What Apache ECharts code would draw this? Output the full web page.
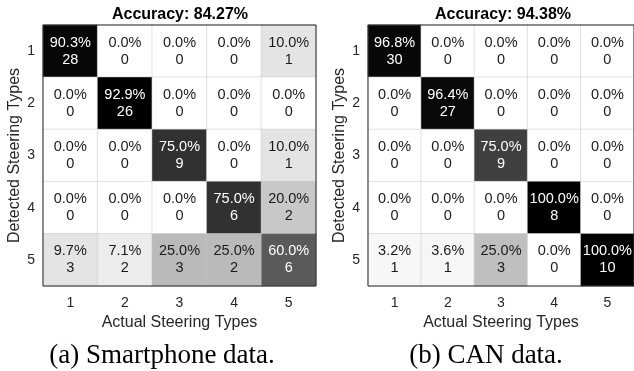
<!DOCTYPE html>
<html>
<head>
<meta charset="utf-8">
<script src="https://cdn.jsdelivr.net/npm/echarts@6/dist/echarts.min.js"></script>
<style>
html,body{margin:0;padding:0;background:#fff;}
#chart{width:634px;height:371px;}
</style>
</head>
<body>
<div id="chart"></div>
<script>
// Categories / tick labels
var categories = ['1', '2', '3', '4', '5'];

// Smartphone data: rows = detected type (1..5), cols = actual type (1..5)
var smartPct = [
  [90.3, 0.0, 0.0, 0.0, 10.0],
  [0.0, 92.9, 0.0, 0.0, 0.0],
  [0.0, 0.0, 75.0, 0.0, 10.0],
  [0.0, 0.0, 0.0, 75.0, 20.0],
  [9.7, 7.1, 25.0, 25.0, 60.0]
];
var smartCnt = [
  [28, 0, 0, 0, 1],
  [0, 26, 0, 0, 0],
  [0, 0, 9, 0, 1],
  [0, 0, 0, 6, 2],
  [3, 2, 3, 2, 6]
];

// CAN data
var canPct = [
  [96.8, 0.0, 0.0, 0.0, 0.0],
  [0.0, 96.4, 0.0, 0.0, 0.0],
  [0.0, 0.0, 75.0, 0.0, 0.0],
  [0.0, 0.0, 0.0, 100.0, 0.0],
  [3.2, 3.6, 25.0, 0.0, 100.0]
];
var canCnt = [
  [30, 0, 0, 0, 0],
  [0, 27, 0, 0, 0],
  [0, 0, 9, 0, 0],
  [0, 0, 0, 8, 0],
  [1, 1, 3, 0, 10]
];

var titles = ['Accuracy: 84.27%', 'Accuracy: 94.38%'];
var captions = ['(a) Smartphone data.', '(b) CAN data.'];
var xName = 'Actual Steering Types';
var yName = 'Detected Steering Types';

function buildData(pct, cnt) {
  var out = [];
  for (var r = 0; r < pct.length; r++) {
    for (var c = 0; c < pct[r].length; c++) {
      out.push({
        value: [c, r, pct[r][c], cnt[r][c]],
        label: { color: pct[r][c] > 50 ? '#ffffff' : '#1a1a1a' }
      });
    }
  }
  return out;
}
function maxOf(m) {
  var mx = 0;
  m.forEach(function (row) { row.forEach(function (v) { if (v > mx) mx = v; }); });
  return mx;
}

var FONT = 'Liberation Sans';
var grids = [
  { left: 43, top: 25, width: 273, height: 261 },
  { left: 368, top: 25, width: 273, height: 261 }
];

function xAx(i) {
  return {
    type: 'category', gridIndex: i, data: categories,
    position: 'bottom',
    axisLine: { show: false }, axisTick: { show: false }, splitLine: { show: false },
    axisLabel: { color: '#262626', fontFamily: FONT, fontSize: 14, margin: 10 },
    name: xName, nameLocation: 'middle', nameGap: 29,
    nameTextStyle: { color: '#262626', fontFamily: FONT, fontSize: 16 }
  };
}
function yAx(i) {
  return {
    type: 'category', gridIndex: i, data: categories, inverse: true,
    axisLine: { show: false }, axisTick: { show: false }, splitLine: { show: false },
    axisLabel: { color: '#262626', fontFamily: FONT, fontSize: 14, margin: 8 },
    name: yName, nameLocation: 'middle', nameGap: 20,
    nameTextStyle: { color: '#262626', fontFamily: FONT, fontSize: 16 }
  };
}
function series(i, pct, cnt) {
  return {
    type: 'heatmap', xAxisIndex: i, yAxisIndex: i,
    data: buildData(pct, cnt),
    itemStyle: { borderColor: '#c8c8c8', borderWidth: 0.5 },
    label: {
      show: true, fontFamily: FONT, fontSize: 14.5, lineHeight: 17,
      formatter: function (p) { return p.value[2].toFixed(1) + '%\n' + p.value[3]; }
    },
    emphasis: { disabled: true }
  };
}

var chart = echarts.init(document.getElementById('chart'), null, { renderer: 'canvas' });
chart.setOption({
  backgroundColor: '#ffffff',
  animation: false,
  grid: grids.map(function (g) {
    return Object.assign({ show: true, borderColor: '#262626', borderWidth: 1, backgroundColor: 'transparent', z: 5 }, g);
  }),
  xAxis: [xAx(0), xAx(1)],
  yAxis: [yAx(0), yAx(1)],
  visualMap: [
    { show: false, seriesIndex: 0, dimension: 2, min: 0, max: maxOf(smartPct), inRange: { color: ['#ffffff', '#000000'] } },
    { show: false, seriesIndex: 1, dimension: 2, min: 0, max: maxOf(canPct), inRange: { color: ['#ffffff', '#000000'] } }
  ],
  series: [series(0, smartPct, smartCnt), series(1, canPct, canCnt)],
  graphic: [
    { type: 'text', x: 180, y: 15, style: { text: titles[0], font: 'bold 16px "Liberation Sans"', fill: '#000', align: 'center', verticalAlign: 'middle' } },
    { type: 'text', x: 503, y: 15, style: { text: titles[1], font: 'bold 16px "Liberation Sans"', fill: '#000', align: 'center', verticalAlign: 'middle' } },
    { type: 'text', x: 162, y: 356, style: { text: captions[0], font: '27px "Liberation Serif"', fill: '#000', align: 'center', verticalAlign: 'middle' } },
    { type: 'text', x: 486, y: 356, style: { text: captions[1], font: '27px "Liberation Serif"', fill: '#000', align: 'center', verticalAlign: 'middle' } }
  ]
});
</script>
</body>
</html>
